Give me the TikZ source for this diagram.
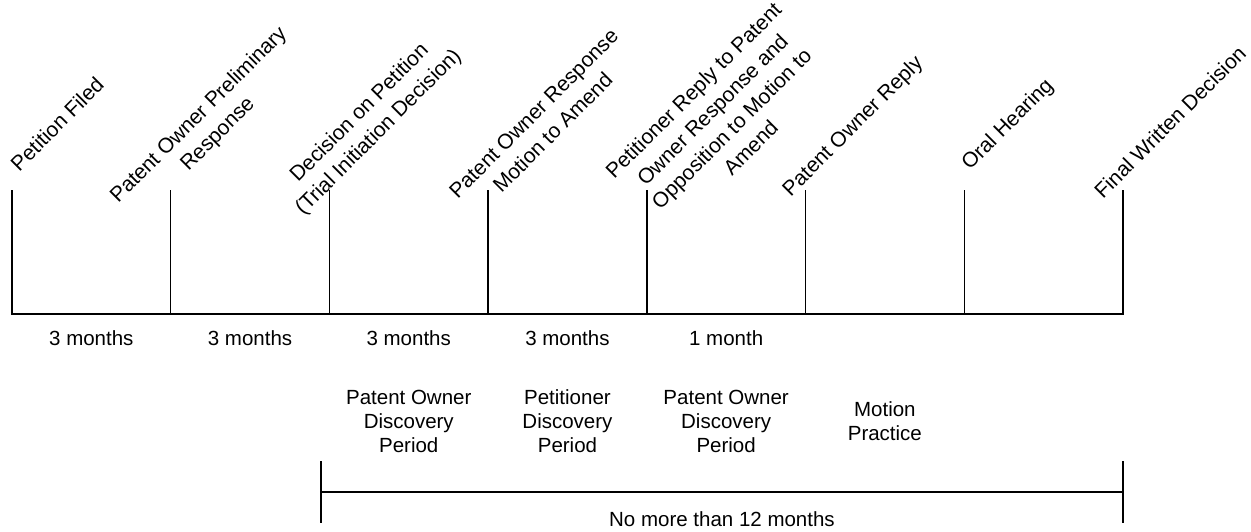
\documentclass[tikz,border=0pt]{standalone}
\usepackage{fontspec}
\setmainfont{Liberation Sans}
\usetikzlibrary{positioning,calc}

\begin{document}
\begin{tikzpicture}[x=0.5pt, y=-0.5pt, node distance=79.35pt, line width=0.7pt]

    \tikzstyle{tick}=[coordinate]
    \tikzstyle{event}=[rotate=45, align=center, inner sep=0pt, font=\fontsize{10.5}{13.5}\selectfont]
    \tikzstyle{phase}=[align=center, inner sep=0pt, font=\fontsize{10.25}{12}\selectfont]

    \useasboundingbox (0,0) rectangle (1251,531);

    % time line
    \node[tick] (b1) at (12,314)    {};
    \node[tick] (b2) [right of = b1] {};
    \node[tick] (b3) [right of = b2] {};
    \node[tick] (b4) [right of = b3] {};
    \node[tick] (b5) [right of = b4] {};
    \node[tick] (b6) [right of = b5] {};
    \node[tick] (b7) [right of = b6] {};
    \node[tick] (b8) [right of = b7] {};

    \node[tick] (t1) [above = 62pt of b1] {};
    \node[tick] (t2) [above = 62pt of b2] {};
    \node[tick] (t3) [above = 62pt of b3] {};
    \node[tick] (t4) [above = 62pt of b4] {};
    \node[tick] (t5) [above = 62pt of b5] {};
    \node[tick] (t6) [above = 62pt of b6] {};
    \node[tick] (t7) [above = 62pt of b7] {};
    \node[tick] (t8) [above = 62pt of b8] {};

    \draw (t1) -- (b1) -- (b8) -- (t8);
    \draw (b2) -- (t2);
    \draw (b3) -- (t3);
    \draw (b4) -- (t4);
    \draw (b5) -- (t5);
    \draw (b6) -- (t6);
    \draw (b7) -- (t7);

    % events
    \node[event] (e1) at ($(t1)+(45,-66)$) {Petition Filed};
    \node[event] (e2) at ($(t2)+(38,-65)$) {Patent Owner Preliminary\\Response};
    \node[event] (e3) at ($(t3)+(40,-67)$) {Decision on Petition\\(Trial Initiation Decision)};
    \node[event] (e4) at ($(t4)+(55,-67)$) {Patent Owner Response\\Motion to Amend};
    \node[event] (e5) at ($(t5)+(75,-71)$) {Petitioner Reply to Patent\\Owner Response and\\Opposition to Motion to\\Amend};
    \node[event] (e6) at ($(t6)+(48,-63)$) {Patent Owner Reply};
    \node[event] (e7) at ($(t7)+(44,-65)$) {Oral Hearing};
    \node[event] (e8) at ($(t8)+(47,-68)$) {Final Written Decision};

    % durations
    \node[phase] (m1) at ($(b1)!.5!(b2)+(0,24.5)$) {3 months};
    \node[phase] (m2) at ($(b2)!.5!(b3)+(0,24.5)$) {3 months};
    \node[phase] (m3) at ($(b3)!.5!(b4)+(0,24.5)$) {3 months};
    \node[phase] (m4) at ($(b4)!.5!(b5)+(0,24.5)$) {3 months};
    \node[phase] (m5) at ($(b5)!.5!(b6)+(0,24.5)$) {1 month};

    \node[phase] (d1) at ($(b3)!.5!(b4)+(0,107.5)$) {Patent Owner\\Discovery\\Period};
    \node[phase] (d2) at ($(b4)!.5!(b5)+(0,107.5)$) {Petitioner\\Discovery\\Period};
    \node[phase] (d3) at ($(b5)!.5!(b6)+(0,107.5)$) {Patent Owner\\Discovery\\Period};
    \node[phase] (d4) at ($(b6)!.5!(b7)+(0,107.5)$) {Motion\\Practice};

    % trial span
    \node[tick] (w1) at (321,492) {};
    \node[tick] (w2) at (b8 |- w1) {};
    \node[tick] (w1a) [above = 15.5pt of w1] {};
    \node[tick] (w1b) [below = 15.5pt of w1] {};
    \node[tick] (w2a) [above = 15.5pt of w2] {};
    \node[tick] (w2b) [below = 15.5pt of w2] {};

    \draw (w1a) -- (w1b);
    \draw (w2a) -- (w2b);
    \draw (w1) -- (w2);
    \node[phase] (n1) at ($(w1)!.5!(w2)+(0,27)$) {No more than 12 months};

\end{tikzpicture}
\end{document}
